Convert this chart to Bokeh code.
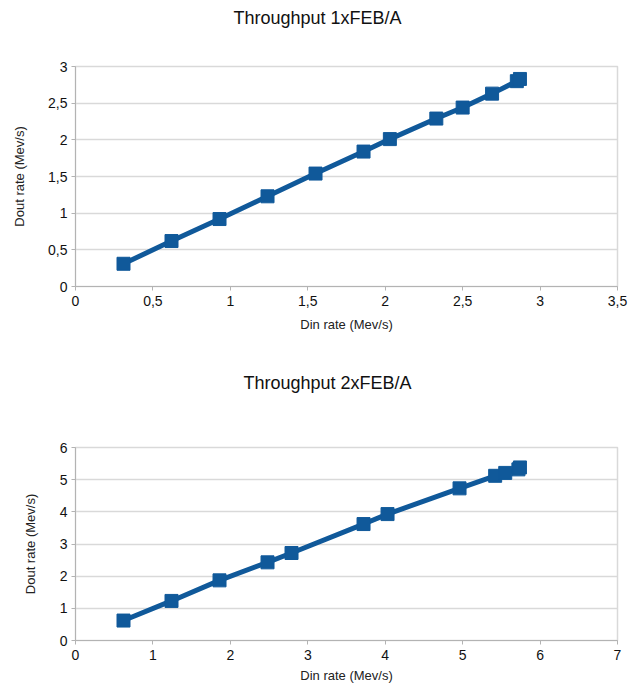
from bokeh.plotting import figure
from bokeh.layouts import column
from bokeh.models import Range1d, FixedTicker, Title
from bokeh.embed import file_html
from bokeh.resources import INLINE

# Chart 1 data
din_1 = [0.31, 0.62, 0.93, 1.24, 1.55, 1.86, 2.03, 2.33, 2.50, 2.69, 2.85, 2.87]
dout_1 = [0.31, 0.62, 0.92, 1.23, 1.54, 1.84, 2.01, 2.29, 2.44, 2.63, 2.80, 2.83]
xticks_1 = [0, 0.5, 1, 1.5, 2, 2.5, 3, 3.5]
xlabels_1 = ["0", "0,5", "1", "1,5", "2", "2,5", "3", "3,5"]
yticks_1 = [0, 0.5, 1, 1.5, 2, 2.5, 3]
ylabels_1 = ["0", "0,5", "1", "1,5", "2", "2,5", "3"]

# Chart 2 data
din_2 = [0.62, 1.24, 1.86, 2.48, 2.79, 3.72, 4.03, 4.96, 5.42, 5.55, 5.72, 5.74]
dout_2 = [0.62, 1.23, 1.87, 2.43, 2.72, 3.62, 3.93, 4.73, 5.12, 5.21, 5.32, 5.38]
xticks_2 = [0, 1, 2, 3, 4, 5, 6, 7]
xlabels_2 = ["0", "1", "2", "3", "4", "5", "6", "7"]
yticks_2 = [0, 1, 2, 3, 4, 5, 6]
ylabels_2 = ["0", "1", "2", "3", "4", "5", "6"]

BLUE = "#10599a"
FONT = "Liberation Sans"


def make_chart(title, xs, ys, xt, xl, yt, yl, xmax, ymax, width, height,
               bl, br, bt, bb, spacer, title_offset, ylab_standoff,
               xlab_standoff):
    p = figure(width=width, height=height, output_backend="svg",
               toolbar_location=None, x_range=Range1d(0, xmax),
               y_range=Range1d(0, ymax), min_border_left=bl,
               min_border_right=br, min_border_top=bt, min_border_bottom=bb)
    # invisible spacer between title and frame
    p.add_layout(Title(text=" ", text_font_size="1px", standoff=spacer),
                 "above")
    p.title.text = title
    p.title.align = "left"
    p.title.offset = title_offset
    p.title.vertical_align = "top"
    p.title.text_font = FONT
    p.title.text_font_size = "18px"
    p.title.text_font_style = "normal"
    p.title.text_color = "#111111"
    p.title.standoff = 10

    p.line(xs, ys, line_color=BLUE, line_width=5)
    p.scatter(xs, ys, marker="square", size=13, fill_color=BLUE,
              line_color=BLUE)

    p.xaxis.ticker = FixedTicker(ticks=xt)
    p.yaxis.ticker = FixedTicker(ticks=yt)
    p.xaxis.major_label_overrides = {t: l for t, l in zip(xt, xl)}
    p.yaxis.major_label_overrides = {t: l for t, l in zip(yt, yl)}
    p.xaxis.axis_label = "Din rate (Mev/s)"
    p.yaxis.axis_label = "Dout rate (Mev/s)"
    for ax in (p.xaxis[0], p.yaxis[0]):
        ax.axis_label_text_font = FONT
        ax.axis_label_text_font_size = "13px"
        ax.axis_label_text_font_style = "normal"
        ax.axis_label_text_color = "#222222"
        ax.major_label_text_font = FONT
        ax.major_label_text_font_size = "14px"
        ax.major_label_text_color = "#111111"
        ax.axis_line_color = "#b3b3b3"
        ax.major_tick_line_color = "#b3b3b3"
        ax.major_tick_in = 0
        ax.major_tick_out = 4
        ax.minor_tick_line_color = None
    p.xaxis.axis_label_standoff = xlab_standoff
    p.yaxis.axis_label_standoff = ylab_standoff
    p.xaxis.major_label_standoff = 5
    p.yaxis.major_label_standoff = 4

    p.xgrid.grid_line_color = None
    p.ygrid.grid_line_color = "#d9d9d9"
    p.ygrid.grid_line_width = 1.5
    p.outline_line_color = "#d9d9d9"
    p.outline_line_width = 1.5
    p.background_fill_color = "white"
    p.border_fill_color = "white"
    return p


p1 = make_chart("Throughput  1xFEB/A", din_1, dout_1, xticks_1, xlabels_1,
                yticks_1, ylabels_1, 3.5, 3, 631, 345, 75, 14, 66, 59,
                29, 158, 18, 8)
p2 = make_chart("Throughput  2xFEB/A", din_2, dout_2, xticks_2, xlabels_2,
                yticks_2, ylabels_2, 7, 6, 631, 341, 70, 11, 102, 46,
                45, 168, 19, 5)

layout = column(p1, p2, spacing=0)
open("out.html", "w").write(file_html(layout, INLINE))
